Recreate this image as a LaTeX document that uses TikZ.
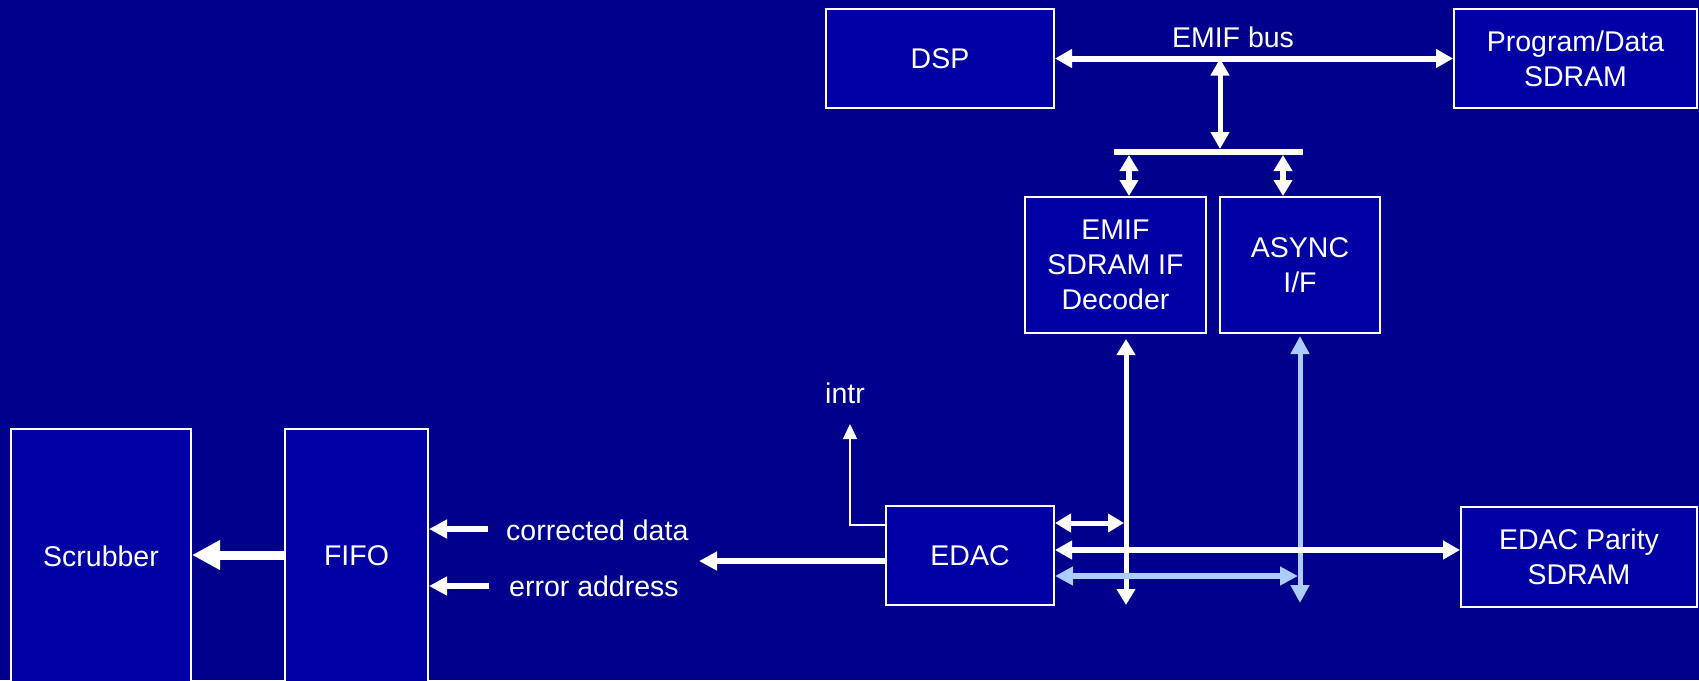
\documentclass[tikz,border=0pt]{standalone}
\usepackage{fontspec}
\setmainfont{Liberation Sans}
\usetikzlibrary{arrows.meta}
\definecolor{bgblue}{RGB}{0,0,140}
\definecolor{boxblue}{RGB}{0,0,165}
\definecolor{paleblue}{RGB}{170,204,255}
\tikzset{
  txt/.style={font=\fontsize{28.5}{35}\selectfont, text=white},
  blk/.style={txt, draw=white, line width=2pt, fill=boxblue, inner sep=0pt, align=center},
  lbl/.style={txt, inner sep=0pt},
  wire/.style={white, line width=6pt, -{Triangle[length=18pt,width=18pt]}},
  biwire/.style={white, line width=6pt, {Triangle[length=17pt,width=18pt]}-{Triangle[length=17pt,width=18pt]}},
  biwiresmall/.style={white, line width=5.5pt, {Triangle[length=16pt,width=18pt]}-{Triangle[length=16pt,width=18pt]}},
  biblue/.style={paleblue, line width=6pt, {Triangle[length=18pt,width=18pt]}-{Triangle[length=18pt,width=18pt]}},
  fatwire/.style={white, line width=9pt, -{Triangle[length=28pt,width=28pt]}},
  thinwire/.style={white, line width=1.5pt, -{Triangle[length=15pt,width=14pt]}},
}
\begin{document}
\begin{tikzpicture}[x=1pt,y=-1pt]
  % canvas
  \useasboundingbox (0,0) rectangle (1699,680);
  \fill[bgblue] (0,0) rectangle (1699,680);
  \clip (0,0) rectangle (1699,680);

  % blocks
  \node[blk, minimum width=228pt, minimum height=99pt] (dsp) at (940,58.5) {DSP};
  \node[blk, minimum width=243pt, minimum height=99pt] (pd) at (1575.5,58.5) {Program/Data\\SDRAM};
  \node[blk, minimum width=181pt, minimum height=136pt] (emif) at (1115.5,265) {EMIF\\SDRAM IF\\Decoder};
  \node[blk, minimum width=160pt, minimum height=136pt] (asy) at (1300,265) {ASYNC\\I/F};
  \node[blk, minimum width=168pt, minimum height=99pt] (edac) at (970,555.5) {EDAC};
  \node[blk, minimum width=236pt, minimum height=100pt] (par) at (1579,557) {EDAC Parity\\SDRAM};
  \node[blk, minimum width=180pt, minimum height=254pt] (scr) at (101,556) {Scrubber};
  \node[blk, minimum width=143pt, minimum height=254pt] (fifo) at (356.5,556) {FIFO};

  % free ends and junctions
  \coordinate (j) at (1220,58.5);
  \coordinate (barL) at (1114,152);
  \coordinate (barR) at (1303,152);
  \coordinate (b1) at (1129,152);
  \coordinate (b2) at (1283,152);
  \coordinate (v1) at (1126,605);
  \coordinate (v2) at (1300,603);
  \coordinate (ic) at (850,424);
  \coordinate (eo) at (699,561);
  \coordinate (cd) at (488,529);
  \coordinate (ea) at (489,586);

  % EMIF bus
  \draw[biwire] (dsp.east) -- (pd.west);
  \node[lbl] (buslbl) at (1233,37) {EMIF bus};
  \draw[biwire, line width=5pt, shorten >=3pt] (j) -- (j |- barL);
  \draw[white, line width=6pt] (barL) -- (barR);
  \draw[biwiresmall, shorten <=3pt] (b1) -- (b1 |- emif.north);
  \draw[biwiresmall, shorten <=3pt] (b2) -- (b2 |- asy.north);

  % vertical buses to the EDAC side
  \draw[biwiresmall, line width=5pt, shorten <=5pt] (v1 |- emif.south) -- (v1);
  \draw[biblue, line width=5pt, shorten <=2pt] (asy.south) -- (v2);

  % EDAC connections
  \draw[biwiresmall, line width=5pt, shorten >=2pt] (edac.east |- 0,523) -- (v1 |- 0,523);
  \draw[biwire] (edac.east |- 0,550) -- (par.west |- 0,550);
  \draw[biblue, shorten >=2pt] (edac.east |- 0,576) -- (v2 |- 0,576);

  % interrupt
  \draw[thinwire] (edac.west |- 0,525) -| (ic);
  \node[lbl] (intr) at (845,393) {intr};

  % outputs toward the FIFO
  \draw[wire] (edac.west |- eo) -- (eo);
  \draw[wire] (cd) -- (fifo.east |- cd);
  \node[lbl, anchor=west] (cdl) at (506,530) {corrected data};
  \draw[wire] (ea) -- (fifo.east |- ea);
  \node[lbl, anchor=west] (eal) at (509,586) {error address};
  \draw[fatwire] (fifo.west |- 0,555) -- (scr.east |- 0,555);
\end{tikzpicture}
\end{document}
